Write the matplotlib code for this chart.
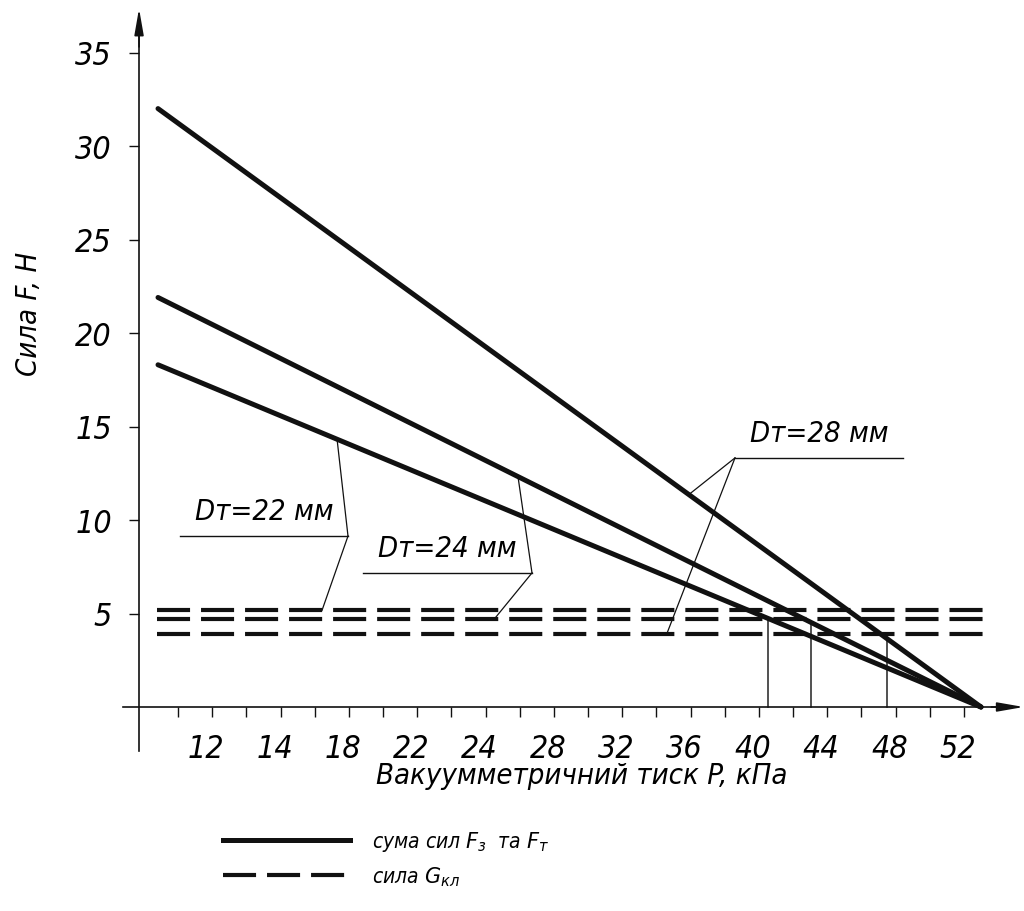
import numpy as np
import matplotlib
matplotlib.use("Agg")
import matplotlib.pyplot as plt
import matplotlib.transforms as mtransforms
from matplotlib import font_manager as fm

# ---------------- data ----------------
p_start = 4.83          # kPa, left end of force lines
p_zero = 53.0           # kPa, where all force lines reach zero
diam_labels = ["Dт=22 мм", "Dт=24 мм", "Dт=28 мм"]
force_start = [18.3, 21.9, 32.0]          # N at p_start
gravity_levels = [5.17, 4.69, 3.89]       # N, dashed lines (сила Gкл)
gravity_p = [4.77, 53.3]                  # extent of dashed lines
crossing_p = [40.53, 43.05, 47.5]         # vertical marks at intersections
x_major = [8, 12, 16, 20, 24, 28, 32, 36, 40, 44, 48, 52]
x_labels = ["12", "14", "18", "22", "24", "28", "32", "36", "40", "44", "48", "52"]
x_minor = [6, 10, 14, 18, 22, 26, 30, 34, 38, 42, 46, 50]
y_ticks = [5, 10, 15, 20, 25, 30, 35]
y_labels = ["5", "10", "15", "20", "25", "30", "35"]

# ---------------- fonts: prefer a narrow italic sans ----------------
def pick_font():
    narrow = []
    for f in fm.fontManager.ttflist:
        fn = f.fname.lower()
        if (("narrow" in fn or "condensed" in fn) and f.style in ("italic", "oblique")
                and "mono" not in fn and "serif" not in fn and "bold" not in fn
                and f.weight in (300, 400, "normal", "light", "regular")):
            narrow.append(f)
    if narrow:
        narrow.sort(key=lambda f: ("liberation" not in f.fname.lower(), f.fname))
        return fm.FontProperties(fname=narrow[0].fname), narrow[0].name
    for fam in ["Roboto", "Liberation Sans"]:
        for f in fm.fontManager.ttflist:
            if f.name == fam and f.style == "italic" and f.weight in (300, "light"):
                return fm.FontProperties(fname=f.fname), fam
    for f in fm.fontManager.ttflist:
        if f.name == "Liberation Sans" and f.style == "italic" and f.weight in (400, "normal", "regular"):
            return fm.FontProperties(fname=f.fname), "Liberation Sans"
    return fm.FontProperties(family="DejaVu Sans", style="italic"), "DejaVu Sans"

FP, FAM = pick_font()

def fp(size):
    p = FP.copy()
    p.set_size(size)
    return p

plt.rcParams["mathtext.fontset"] = "custom"
plt.rcParams["mathtext.it"] = FAM + ":italic"
plt.rcParams["mathtext.rm"] = FAM + ":italic"

W, H = 1024, 912
fig = plt.figure(figsize=(W / 100, H / 100), dpi=100)
ax = fig.add_axes([0, 0, 1, 1])
# pixel-consistent limits
ax.set_xlim(6 - 178 / 17.085, 6 + (W - 178) / 17.085)
ax.set_ylim(-(H - 708) / 18.7, 708 / 18.7)

LW = 3.6
DLW = 3.0
dash = (23.8 / DLW, 7.9 / DLW)
INK = "#111111"

# force lines
curves = []
for f0 in force_start:
    px = np.array([p_start, p_zero])
    fy = np.array([f0, 0.0])
    ax.plot(px, fy, color=INK, lw=LW, solid_capstyle="round", zorder=3)
    curves.append((px, fy))

def on_curve(i, p):
    return float(np.interp(p, curves[i][0], curves[i][1]))

# dashed gravity lines
for g in gravity_levels:
    ln, = ax.plot(gravity_p, [g, g], color=INK, lw=DLW, zorder=3)
    ln.set_dashes(dash)

# vertical marks from intersections down to axis
for i, pc in enumerate(crossing_p):
    ax.plot([pc, pc], [0, on_curve(i, pc)], color="#222222", lw=1.1, zorder=2)

# axes (spines)
for s in ["top", "right"]:
    ax.spines[s].set_visible(False)
ax.spines["left"].set_position(("data", 3.72))
ax.spines["bottom"].set_position(("data", 0))
ax.spines["left"].set_bounds(-2.35, 36.5)
ax.spines["bottom"].set_bounds(2.8, 54.5)
for s in ["left", "bottom"]:
    ax.spines[s].set_linewidth(1.2)
    ax.spines[s].set_color(INK)

ax.set_xticks(x_major)
ax.set_xticklabels(x_labels)
ax.set_xticks(x_minor, minor=True)
ax.set_yticks(y_ticks)
ax.set_yticklabels(y_labels)
ax.tick_params(axis="both", which="both", direction="out", length=7.5, width=1.0,
               color=INK)
ax.tick_params(axis="x", which="major", pad=11)
ax.tick_params(axis="y", which="major", pad=12)
shift = mtransforms.ScaledTranslation(-6 / 100, 0, fig.dpi_scale_trans)
for lab in ax.get_xticklabels():
    lab.set_fontproperties(fp(23))
    lab.set_transform(lab.get_transform() + shift)
for lab in ax.get_yticklabels():
    lab.set_fontproperties(fp(23))

# arrows at axis ends
ax.annotate("", xy=(3.72, 37.35), xytext=(3.72, 35.3),
            arrowprops=dict(arrowstyle="-|>,head_length=1.6,head_width=0.28",
                            color=INK, lw=1.2, shrinkA=0, shrinkB=0))
ax.annotate("", xy=(55.5, 0), xytext=(53.6, 0),
            arrowprops=dict(arrowstyle="-|>,head_length=1.6,head_width=0.28",
                            color=INK, lw=1.2, shrinkA=0, shrinkB=0))

# axis titles
ax.text(-2.75, 21.1, "Сила F, H", rotation=90, ha="center", va="center",
        fontproperties=fp(21))
ax.text(29.6, -3.65, "Вакуумметричний тиск P, кПа", ha="center", va="center",
        fontproperties=fp(21))

# annotations for diameters
ann = [
    dict(text=(7.0, 10.05), ul=(6.12, 15.95, 9.14), cp=15.31, dp=14.43),
    dict(text=(17.7, 8.07), ul=(16.83, 26.72, 7.17), cp=25.9, dp=24.5),
    dict(text=(39.48, 14.22), ul=(38.6, 48.43, 13.32), cp=35.9, dp=34.6),
]
for i, a in enumerate(ann):
    tx, ty = a["text"]
    ax.text(tx, ty, diam_labels[i], ha="left", va="baseline", fontproperties=fp(21))
    x0, x1, yl = a["ul"]
    ax.plot([x0, x1], [yl, yl], color=INK, lw=1.0)
    knee = x1 if i < 2 else x0
    ax.plot([knee, a["cp"]], [yl, on_curve(i, a["cp"])], color=INK, lw=0.9)
    ax.plot([knee, a["dp"]], [yl, gravity_levels[i]], color=INK, lw=0.9)

# legend
solid_h, = ax.plot([], [], color=INK, lw=LW)
dash_h, = ax.plot([], [], color=INK, lw=DLW)
dash_h.set_dashes(dash)
leg = ax.legend([solid_h, dash_h],
                ["сума сил $F_з$  та $F_т$", "сила $G_{кл}$"],
                loc="upper left", bbox_to_anchor=(223 / W, 1 - 830 / H),
                bbox_transform=fig.transFigure, frameon=False, borderpad=0,
                borderaxespad=0, prop=fp(15), handlelength=6.1, handletextpad=1.05,
                labelspacing=0.55)

fig.savefig("out.png", dpi=100)
